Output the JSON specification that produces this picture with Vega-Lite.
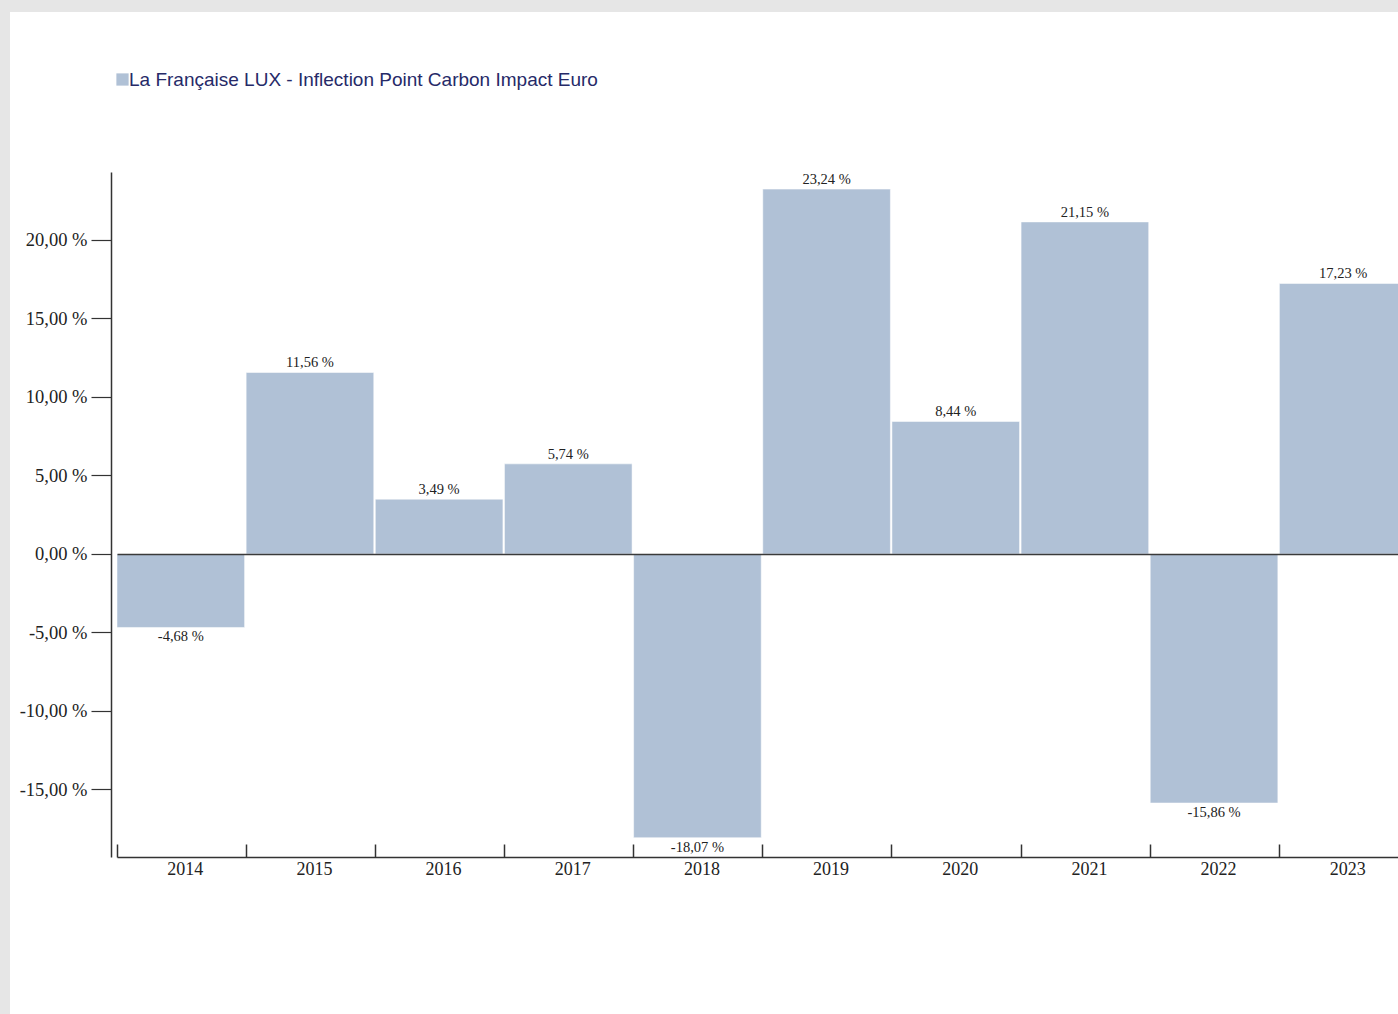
{
  "$schema": "https://vega.github.io/schema/vega-lite/v6.json",
  "autosize": {"type": "none"},
  "padding": {"left": 10, "top": 12, "right": 0, "bottom": 0},
  "width": 1388,
  "height": 1002,
  "background": "#e6e6e6",
  "view": {"fill": "#ffffff", "stroke": null},
  "data": {
    "values": [
      {"year": "2014", "value": -4.68, "label": "-4,68 %", "series": "La Française LUX - Inflection Point Carbon Impact Euro"},
      {"year": "2015", "value": 11.56, "label": "11,56 %", "series": "La Française LUX - Inflection Point Carbon Impact Euro"},
      {"year": "2016", "value": 3.49, "label": "3,49 %", "series": "La Française LUX - Inflection Point Carbon Impact Euro"},
      {"year": "2017", "value": 5.74, "label": "5,74 %", "series": "La Française LUX - Inflection Point Carbon Impact Euro"},
      {"year": "2018", "value": -18.07, "label": "-18,07 %", "series": "La Française LUX - Inflection Point Carbon Impact Euro"},
      {"year": "2019", "value": 23.24, "label": "23,24 %", "series": "La Française LUX - Inflection Point Carbon Impact Euro"},
      {"year": "2020", "value": 8.44, "label": "8,44 %", "series": "La Française LUX - Inflection Point Carbon Impact Euro"},
      {"year": "2021", "value": 21.15, "label": "21,15 %", "series": "La Française LUX - Inflection Point Carbon Impact Euro"},
      {"year": "2022", "value": -15.86, "label": "-15,86 %", "series": "La Française LUX - Inflection Point Carbon Impact Euro"},
      {"year": "2023", "value": 17.23, "label": "17,23 %", "series": "La Française LUX - Inflection Point Carbon Impact Euro"}
    ]
  },
  "encoding": {
    "x": {
      "field": "year",
      "type": "nominal",
      "sort": null,
      "scale": {"range": [107, 1397], "paddingInner": 0.012, "paddingOuter": 0},
      "axis": {
        "title": null,
        "orient": "bottom",
        "offset": -157,
        "labelAngle": 0,
        "bandPosition": 0,
        "labelOffset": 4.5,
        "tickSize": -13,
        "tickWidth": 1.5,
        "tickColor": "#333333",
        "domainColor": "#333333",
        "domainWidth": 1.5,
        "labelPadding": 16,
        "labelFont": "Liberation Serif",
        "labelFontSize": 18,
        "labelColor": "#222222",
        "zindex": 1
      }
    },
    "y": {
      "field": "value",
      "type": "quantitative",
      "scale": {"domain": [-19.3, 24.33], "range": [845, 160], "nice": false, "zero": false},
      "axis": {
        "title": null,
        "orient": "left",
        "offset": -101,
        "values": [-15, -10, -5, 0, 5, 10, 15, 20],
        "labelExpr": "replace(replace(format(datum.value, '.2f'), '.', ','), '\u2212', '-') + ' %'",
        "tickSize": 20,
        "tickColor": "#333333",
        "tickWidth": 1.2,
        "domainColor": "#333333",
        "domainWidth": 1.5,
        "labelPadding": 4,
        "labelFont": "Liberation Serif",
        "labelFontSize": 18.5,
        "labelColor": "#222222",
        "grid": true,
        "gridColor": "#3a3a3a",
        "gridWidth": 1.5,
        "gridOpacity": {"condition": {"test": "datum.value === 0", "value": 1}, "value": 0},
        "zindex": 1
      }
    }
  },
  "layer": [
    {
      "mark": {"type": "bar", "clip": true, "stroke": "#ffffff", "strokeWidth": 0.5},
      "encoding": {
        "color": {
          "field": "series",
          "type": "nominal",
          "scale": {"range": ["#b0c1d6"]},
          "legend": {
            "title": null,
            "orient": "none",
            "legendX": 103,
            "legendY": 58,
            "symbolType": "square",
            "symbolSize": 150,
            "symbolStrokeWidth": 0,
            "symbolOffset": 0,
            "labelOffset": -3,
            "labelFont": "Liberation Sans Narrow, Liberation Sans, sans-serif",
            "labelFontSize": 19,
            "labelColor": "#262a68",
            "labelLimit": 1000
          }
        }
      }
    },
    {
      "transform": [{"filter": "datum.value >= 0"}],
      "mark": {"type": "text", "baseline": "bottom", "dy": -2, "font": "Liberation Serif", "fontSize": 14.5, "color": "#222222"},
      "encoding": {"text": {"field": "label"}}
    },
    {
      "transform": [{"filter": "datum.value < 0"}],
      "mark": {"type": "text", "baseline": "top", "dy": 3, "font": "Liberation Serif", "fontSize": 14.5, "color": "#222222"},
      "encoding": {"text": {"field": "label"}}
    }
  ]
}
